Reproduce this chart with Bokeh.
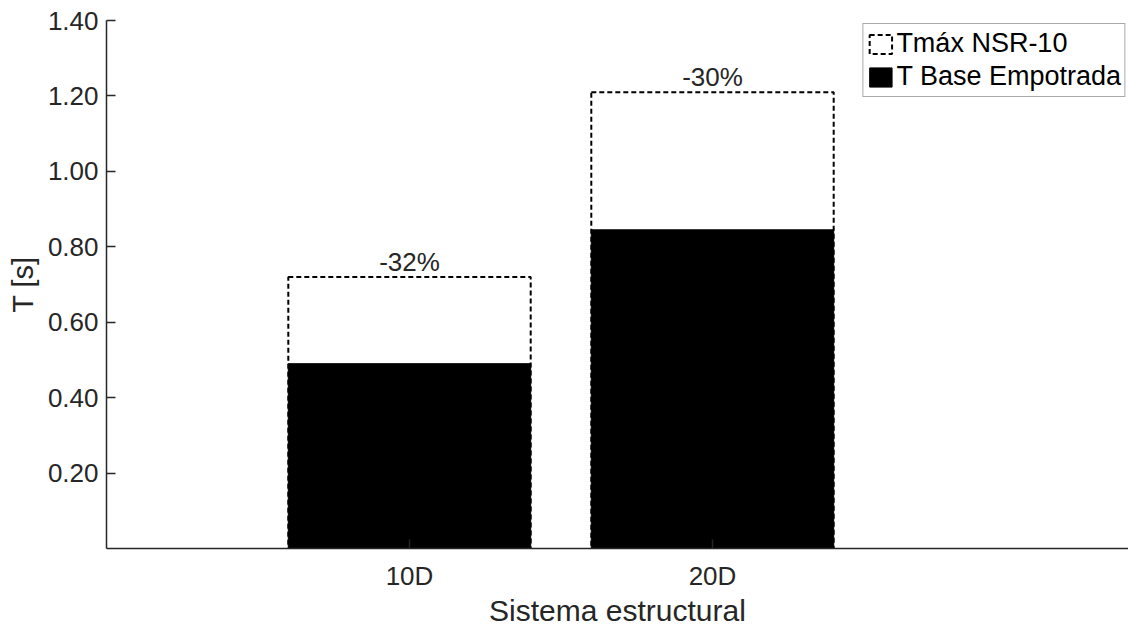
from bokeh.plotting import figure
from bokeh.models import ColumnDataSource, Range1d, FixedTicker, Legend, LegendItem
from bokeh.core.properties import value
from bokeh.embed import file_html
from bokeh.resources import INLINE

categories = ["10D", "20D"]
t_max = [0.72, 1.21]
t_base = [0.49, 0.845]
change_labels = ["-32%", "-30%"]
y_ticks = [0.2, 0.4, 0.6, 0.8, 1.0, 1.2, 1.4]
y_tick_labels = ["0.20", "0.40", "0.60", "0.80", "1.00", "1.20", "1.40"]

xpos = [i + 1 for i in range(len(categories))]
src = ColumnDataSource(dict(x=xpos, cat=categories, tmax=t_max, tbase=t_base, lab=change_labels))

FONT = "Liberation Sans"
TXT = "#262626"

p = figure(width=1128, height=629, output_backend="svg", toolbar_location=None,
           x_range=Range1d(0, 3.373), y_range=Range1d(0, 1.4),
           min_border_left=106, min_border_top=20, min_border_bottom=81, min_border_right=0)
p.outline_line_color = None
p.grid.visible = False

r1 = p.vbar(x="x", top="tmax", width=0.8, source=src, fill_color="white",
            line_color="black", line_dash="5 3", line_width=2)
r2 = p.vbar(x="x", top="tbase", width=0.8, source=src, fill_color="black",
            line_color="black", line_width=1)
p.text(x="x", y="tmax", text="lab", source=src, text_align="center", text_baseline="bottom",
       y_offset=0, text_font=value(FONT), text_font_size="26px", text_color=TXT)

p.xaxis.ticker = FixedTicker(ticks=xpos)
p.xaxis.major_label_overrides = {x: c for x, c in zip(xpos, categories)}
p.yaxis.ticker = FixedTicker(ticks=y_ticks)
p.yaxis.major_label_overrides = {t: l for t, l in zip(y_ticks, y_tick_labels)}

for ax in (p.xaxis[0], p.yaxis[0]):
    ax.axis_line_color = TXT
    ax.axis_line_width = 1.5
    ax.major_tick_in = 9
    ax.major_tick_out = 0
    ax.major_tick_line_color = TXT
    ax.major_tick_line_width = 1.5
    ax.minor_tick_line_color = None
    ax.major_label_text_font = FONT
    ax.major_label_text_font_size = "26px"
    ax.major_label_text_color = TXT
    ax.axis_label_text_font = FONT
    ax.axis_label_text_font_style = "normal"
    ax.axis_label_text_color = TXT

p.xaxis.axis_label = "Sistema estructural"
p.yaxis.axis_label = "T [s]"
p.xaxis.axis_label_text_font_size = "30px"
p.yaxis.axis_label_text_font_size = "29px"
p.xaxis.major_label_standoff = 12
p.xaxis.axis_label_standoff = 0
p.yaxis.major_label_standoff = 8
p.yaxis.axis_label_standoff = 6

legend = Legend(items=[LegendItem(label="Tmáx NSR-10", renderers=[r1]),
                       LegendItem(label="T Base Empotrada", renderers=[r2])],
                location="top_right", margin=3, padding=3, spacing=0,
                glyph_width=28, glyph_height=24, label_height=33, label_standoff=2,
                label_text_font=FONT, label_text_font_size="27px", label_text_color="black",
                border_line_color="#555555", border_line_width=1.5,
                background_fill_alpha=1.0)
p.add_layout(legend)

open("out.html", "w").write(file_html(p, INLINE))
